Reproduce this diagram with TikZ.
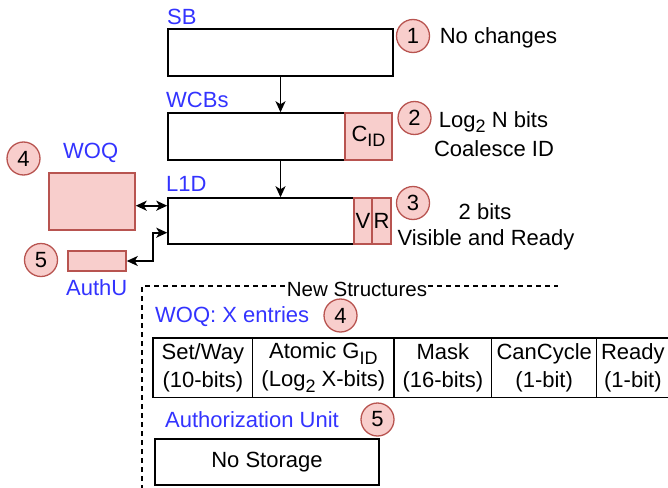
\documentclass[tikz,border=0pt]{standalone}
\usepackage{fontspec}
\setmainfont{Liberation Sans}
\usetikzlibrary{arrows.meta}
\definecolor{pinkfill}{HTML}{F8CECC}
\definecolor{pinkline}{HTML}{B85450}
\definecolor{lblblue}{HTML}{3333FF}
\newcommand{\lowsub}[1]{\raisebox{-0.25em}{\fontsize{18}{20}\selectfont #1}}

\begin{document}
\begin{tikzpicture}[x=1pt,y=-1pt,
  font=\fontsize{22}{28}\selectfont,
  blk/.style={draw, line width=1.5pt, inner sep=0pt},
  pinkblk/.style={draw=pinkline, fill=pinkfill, line width=1.5pt, inner sep=0pt},
  num/.style={circle, draw=pinkline, fill=pinkfill, line width=1.3pt, minimum size=33pt, inner sep=0pt},
  lbl/.style={text=lblblue, inner sep=0pt, anchor=base west},
  txt/.style={inner sep=0pt, anchor=base},
  conn/.style={line width=1.6pt, -{Stealth[length=11pt,width=10pt,inset=3pt]}},
  dconn/.style={line width=1.6pt, {Stealth[length=11pt,width=10pt,inset=3pt]}-{Stealth[length=11pt,width=10pt,inset=3pt]}},
  frame/.style={line width=1.3pt, dash pattern=on 5pt off 4pt},
  cell/.style={draw, line width=1.5pt, inner sep=0pt, minimum height=59.5pt, align=center}]
\useasboundingbox (0,0) rectangle (668,487);
%
\node[blk, minimum width=225pt, minimum height=47pt] (sb) at (280.5,52.5) {};
\node[lbl] (sbl) at (167,25) {SB};
\node[num] (n1) at (413,36) {1};
\node[txt] (t1) at (498.5,44) {No changes};
%
\node[blk, minimum width=177pt, minimum height=47pt] (wcb) at (256.5,136.5) {};
\node[pinkblk, minimum width=47pt, minimum height=47pt] (cid) at (368.5,136.5) {C\lowsub{ID}};
\node[lbl] (wcbl) at (166,107) {WCBs};
\node[num] (n2) at (414.5,118) {2};
\node[txt] (t2a) at (493.5,127) {Log\lowsub{2} N bits};
\node[txt] (t2b) at (494,156) {Coalesce ID};
%
\node[blk, minimum width=186pt, minimum height=46pt] (l1d) at (261,221) {};
\node[pinkblk, minimum width=18pt, minimum height=46pt] (vis) at (363,221) {V};
\node[pinkblk, minimum width=19pt, minimum height=46pt] (rdy) at (381.5,221) {R};
\node[lbl] (l1dl) at (166,191) {L1D};
\node[num] (n3) at (413,203) {3};
\node[txt] (t3a) at (485,219) {2 bits};
\node[txt] (t3b) at (486,245) {Visible and Ready};
%
\draw[conn] (sb.south) -- (sb.south |- wcb.north);
\draw[conn] (sb.south |- wcb.south) -- (sb.south |- l1d.north);
%
\node[pinkblk, minimum width=86pt, minimum height=57pt] (woq) at (92,201.5) {};
\node[lbl] (woql) at (63,158) {WOQ};
\node[num] (n4a) at (23.5,158.5) {4};
\node[pinkblk, minimum width=58pt, minimum height=20pt] (auth) at (97,261) {};
\node[lbl] (authl) at (66,295) {AuthU};
\node[num] (n5a) at (41,260) {5};
%
\draw[dconn] ([yshift=-4.2pt]woq.east) -- ([yshift=15.3pt]l1d.west);
\draw[dconn] (auth.east) -- ++(26,0) |- ([yshift=-11.7pt]l1d.west);
%
\coordinate (fbot) at (142,490);
\coordinate (fcorner) at (142,286);
\coordinate (fend) at (558,286);
\node[inner sep=1pt, font=\fontsize{20.5}{24}\selectfont] (newst) at (357,289.5) {New Structures};
\draw[frame] (fbot) -- (fcorner) -- (fcorner -| newst.west);
\draw[frame] (newst.east |- fend) -- (fend);
%
\node[lbl] (woqx) at (155,322.7) {WOQ: X entries};
\node[num] (n4b) at (340.5,315.5) {4};
\node[cell, minimum width=99.7pt] (c1) at (202.85,367.7) {Set/Way\\(10-bits)};
\node[cell, minimum width=141.3pt] (c2) at (323.35,367.7) {Atomic G\lowsub{ID}\\(Log\lowsub{2} X-bits)};
\node[cell, minimum width=97.7pt] (c3) at (442.85,367.7) {Mask\\(16-bits)};
\node[cell, minimum width=105pt] (c4) at (544.2,367.7) {CanCycle\\(1-bit)};
\node[cell, minimum width=72.3pt] (c5) at (632.85,367.7) {Ready\\(1-bit)};
%
\node[lbl] (authx) at (165,427.5) {Authorization Unit};
\node[num] (n5b) at (377.5,419.5) {5};
\node[blk, minimum width=224pt, minimum height=46pt] (nost) at (267,462) {No Storage};
\end{tikzpicture}
\end{document}
